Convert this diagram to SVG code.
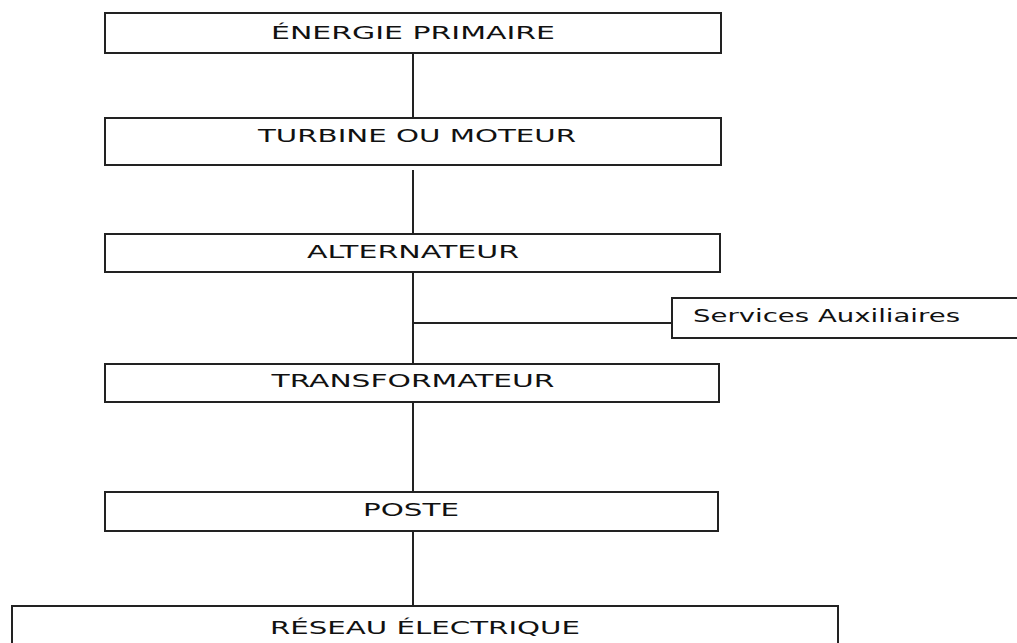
<svg xmlns="http://www.w3.org/2000/svg" width="1017" height="643" viewBox="0 0 1017 643">
<style>
.box{fill:#fff;stroke:#222;stroke-width:2}
.lbl{font-family:"DejaVu Sans","Liberation Sans",sans-serif;font-size:18px;fill:#111;text-anchor:middle}
.aux{font-family:"DejaVu Sans","Liberation Sans",sans-serif;font-size:17px;fill:#111}
.con{stroke:#222;stroke-width:2;fill:none}
</style>
<rect width="1017" height="643" fill="#fff"/>
<g id="connectors">
<line class="con" x1="413" y1="53" x2="413" y2="118"/>
<line class="con" x1="413" y1="170" x2="413" y2="234"/>
<line class="con" x1="413" y1="272" x2="413" y2="364"/>
<line class="con" x1="413" y1="323" x2="672" y2="323"/>
<line class="con" x1="413" y1="402" x2="413" y2="492"/>
<line class="con" x1="413" y1="531" x2="413" y2="606"/>
</g>
<g id="energie">
<rect class="box" x="105" y="13" width="616" height="40"/>
<text class="lbl" x="413" y="39" textLength="284" lengthAdjust="spacingAndGlyphs">ÉNERGIE PRIMAIRE</text>
</g>
<g id="turbine">
<rect class="box" x="105" y="118" width="616" height="47"/>
<text class="lbl" x="417" y="142" textLength="318" lengthAdjust="spacingAndGlyphs">TURBINE OU MOTEUR</text>
</g>
<g id="alternateur">
<rect class="box" x="105" y="234" width="615" height="38"/>
<text class="lbl" x="413" y="258" textLength="212" lengthAdjust="spacingAndGlyphs">ALTERNATEUR</text>
</g>
<g id="services">
<rect class="box" x="672" y="298" width="350" height="40"/>
<text class="aux" x="693" y="322" textLength="267" lengthAdjust="spacingAndGlyphs">Services Auxiliaires</text>
</g>
<g id="transformateur">
<rect class="box" x="105" y="364" width="614" height="38"/>
<text class="lbl" x="413" y="387" textLength="283" lengthAdjust="spacingAndGlyphs">TRANSFORMATEUR</text>
</g>
<g id="poste">
<rect class="box" x="105" y="492" width="613" height="39"/>
<text class="lbl" x="411" y="516" textLength="96" lengthAdjust="spacingAndGlyphs">POSTE</text>
</g>
<g id="reseau">
<rect class="box" x="12" y="606" width="826" height="45"/>
<text class="lbl" x="425" y="634" textLength="310" lengthAdjust="spacingAndGlyphs">RÉSEAU ÉLECTRIQUE</text>
</g>
</svg>
